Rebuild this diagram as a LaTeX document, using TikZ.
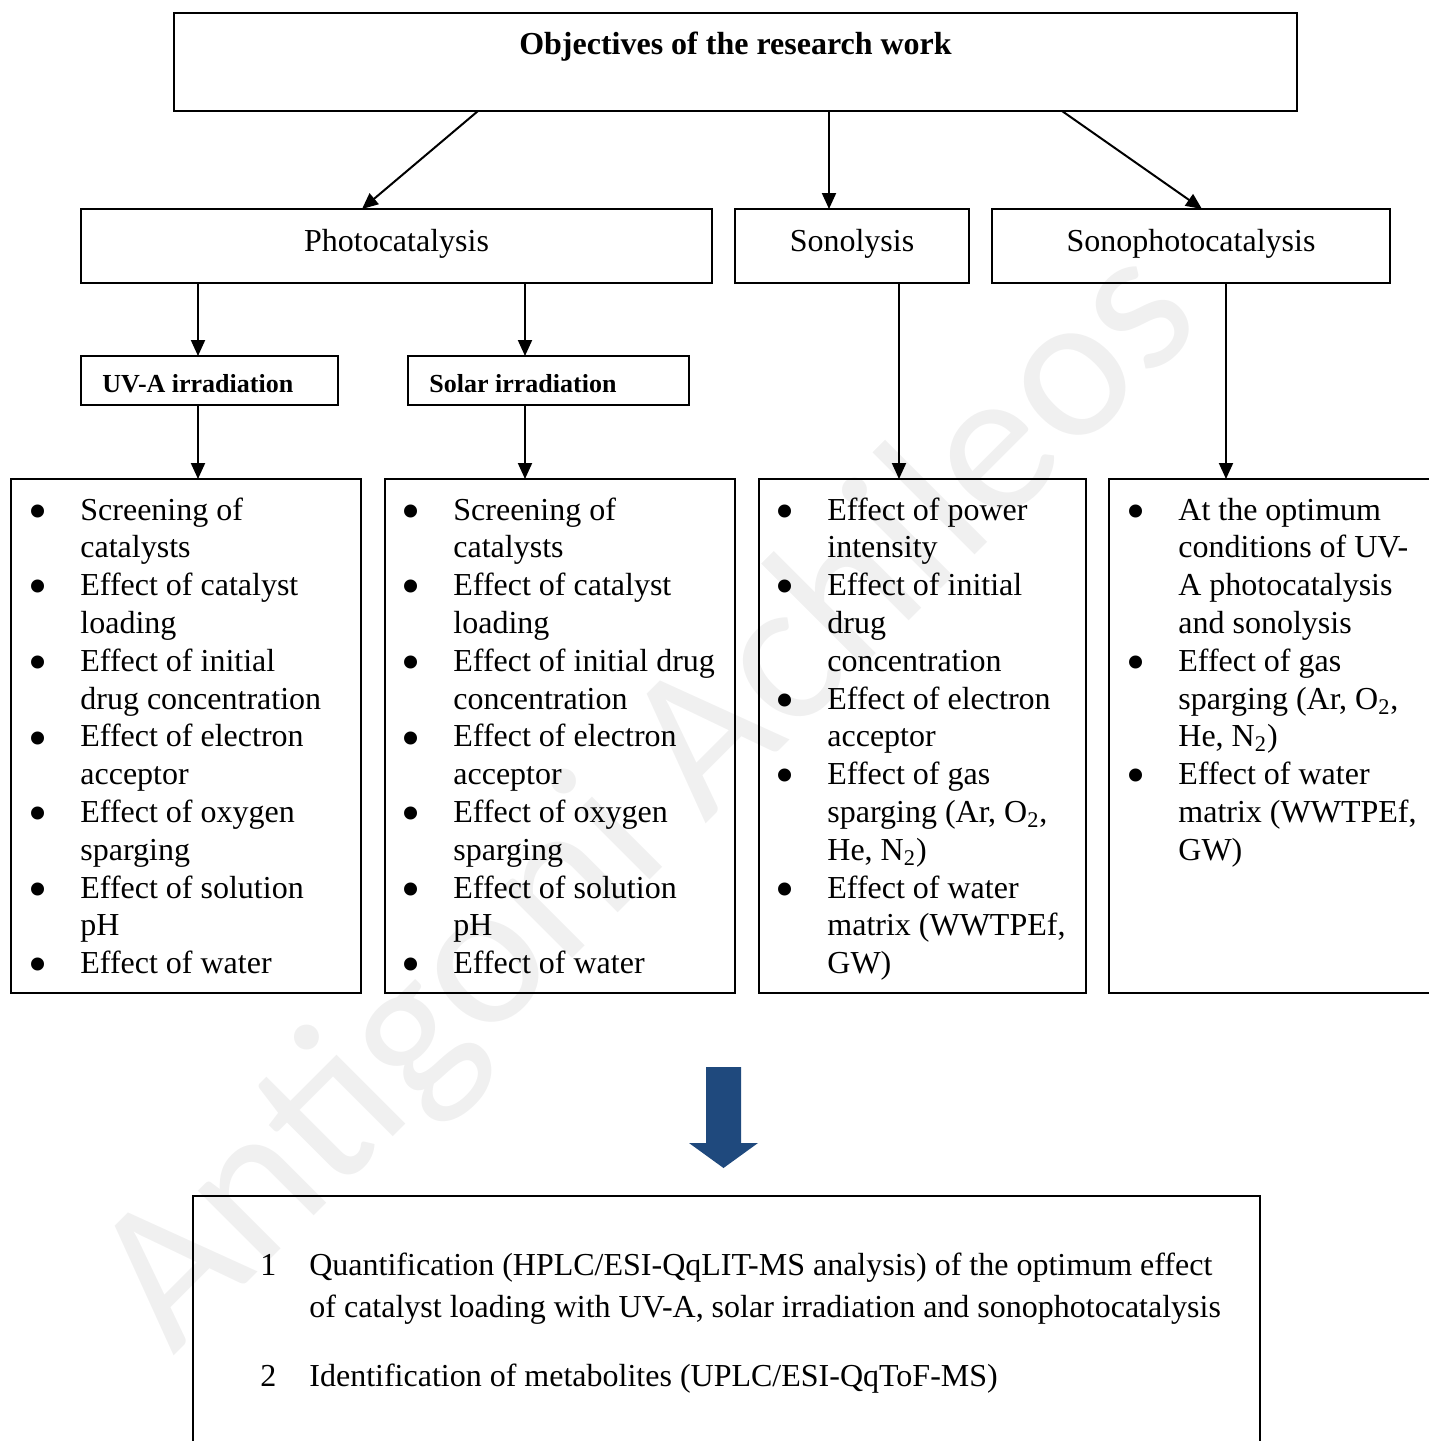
\documentclass[tikz,border=0pt]{standalone}
\usepackage{fontspec}
\usepackage{graphicx}
\setmainfont{Liberation Serif}
\newfontfamily\wmfont{Carlito}
\usetikzlibrary{arrows.meta,fit}
\definecolor{wmgray}{HTML}{F0F0F0}
\definecolor{arrowblue}{HTML}{1F497D}
\tikzset{
  box/.style={draw, line width=1pt, inner sep=0pt, outer sep=0pt},
  conn/.style={line width=1pt, -{Triangle[length=8pt,width=7pt]}},
  lbl/.style={inner sep=0pt, font={\fontsize{16}{19}\selectfont}},
  blbl/.style={inner sep=0pt, font={\fontsize{13}{15}\selectfont\bfseries}},
  itemlist/.style={inner sep=0pt, anchor=base west, font={\fontsize{16}{18.9}\selectfont}},
}
\newcommand\bulletlist[1]{\begin{tabular}[t]{@{}p{23.3pt}@{}l@{}}#1\end{tabular}}
\newcommand\bigbullet{\hspace*{2.3pt}\makebox[0pt]{\raisebox{-4.6pt}{\scalebox{1.7}{\textbullet}}}}
\newcommand\bl{\bigbullet &}
\begin{document}
\begin{tikzpicture}[x=0.5pt,y=-0.5pt]
\useasboundingbox (0,0) rectangle (1429,1441);
\clip (0,0) rectangle (1429,1441);
% watermark
\node[rotate=45, anchor=base west, inner sep=0pt, text=wmgray,
      font={\wmfont\fontsize{104}{104}\selectfont}] (wm) at (173,1357) {Antigoni Achileos};
% boxes
\node[box, fit={(174,13) (1297,111)}] (top) {};
\node[box, fit={(81,209) (712,283)}] (pc) {};
\node[box, fit={(735,209) (969,283)}] (so) {};
\node[box, fit={(992,209) (1390,283)}] (sp) {};
\node[box, fit={(81,356) (338,405)}] (uva) {};
\node[box, fit={(408,356) (689,405)}] (sol) {};
\node[box, fit={(11,479) (361,993)}] (b1) {};
\node[box, fit={(385,479) (735,993)}] (b2) {};
\node[box, fit={(759,479) (1086,993)}] (b3) {};
\node[box, fit={(1109,479) (1500,993)}] (b4) {};
\node[box, fit={(193,1196) (1260,1500)}] (res) {};
% titles
\node[lbl, font={\fontsize{16}{19}\selectfont\bfseries}, anchor=base] (toptxt) at (735.5,54) {Objectives of the research work};
\node[lbl, anchor=base] (pctxt) at (396.5,251) {Photocatalysis};
\node[lbl, anchor=base] (sotxt) at (852,251) {Sonolysis};
\node[lbl, anchor=base] (sptxt) at (1191,251) {Sonophotocatalysis};
\node[blbl, anchor=base west] (uvatxt) at (102,392) {UV-A irradiation};
\node[blbl, anchor=base west] (soltxt) at (429,392) {Solar irradiation};
% connectors
\draw[conn] (478,0 |- top.south) -- (362,0 |- pc.north);
\draw[conn] (829,0 |- top.south) -- (829,0 |- so.north);
\draw[conn] (1062,0 |- top.south) -- (1202,0 |- sp.north);
\draw[conn] (198,0 |- pc.south) -- (198,0 |- uva.north);
\draw[conn] (525,0 |- pc.south) -- (525,0 |- sol.north);
\draw[conn] (198,0 |- uva.south) -- (198,0 |- b1.north);
\draw[conn] (525,0 |- sol.south) -- (525,0 |- b2.north);
\draw[conn] (899,0 |- so.south) -- (899,0 |- b3.north);
\draw[conn] (1226,0 |- sp.south) -- (1226,0 |- b4.north);
% lists
\node[itemlist] (l1) at (33.4,520) {\bulletlist{%
\bl Screening of\\ & catalysts\\
\bl Effect of catalyst\\ & loading\\
\bl Effect of initial\\ & drug concentration\\
\bl Effect of electron\\ & acceptor\\
\bl Effect of oxygen\\ & sparging\\
\bl Effect of solution\\ & pH\\
\bl Effect of water}};
\node[itemlist] (l2) at (406.4,520) {\bulletlist{%
\bl Screening of\\ & catalysts\\
\bl Effect of catalyst\\ & loading\\
\bl Effect of initial drug\\ & concentration\\
\bl Effect of electron\\ & acceptor\\
\bl Effect of oxygen\\ & sparging\\
\bl Effect of solution\\ & pH\\
\bl Effect of water}};
\node[itemlist] (l3) at (780.4,520) {\bulletlist{%
\bl Effect of power\\ & intensity\\
\bl Effect of initial\\ & drug\\ & concentration\\
\bl Effect of electron\\ & acceptor\\
\bl Effect of gas\\ & sparging (Ar, O\textsubscript{2},\\ & He, N\textsubscript{2})\\
\bl Effect of water\\ & matrix (WWTPEf,\\ & GW)}};
\node[itemlist] (l4) at (1131.4,520) {\bulletlist{%
\bl At the optimum\\ & conditions of UV-\\ & A photocatalysis\\ & and sonolysis\\
\bl Effect of gas\\ & sparging (Ar, O\textsubscript{2},\\ & He, N\textsubscript{2})\\
\bl Effect of water\\ & matrix (WWTPEf,\\ & GW)}};
% block arrow
\fill[arrowblue] (706,1067) -- (741,1067) -- (741,1143) -- (758,1143) -- (723.5,1168)
  -- (689,1143) -- (706,1143) -- cycle;
% results
\node[inner sep=0pt, anchor=base west, font={\fontsize{16}{21}\selectfont}] (reslist) at (260,1275)
{\begin{tabular}[t]{@{}p{24.5pt}@{}l@{}}
1 & Quantification (HPLC/ESI-QqLIT-MS analysis) of the optimum effect\\
  & of catalyst loading with UV-A, solar irradiation and sonophotocatalysis\\[13.5pt]
2 & Identification of metabolites (UPLC/ESI-QqToF-MS)
\end{tabular}};
\end{tikzpicture}
\end{document}
